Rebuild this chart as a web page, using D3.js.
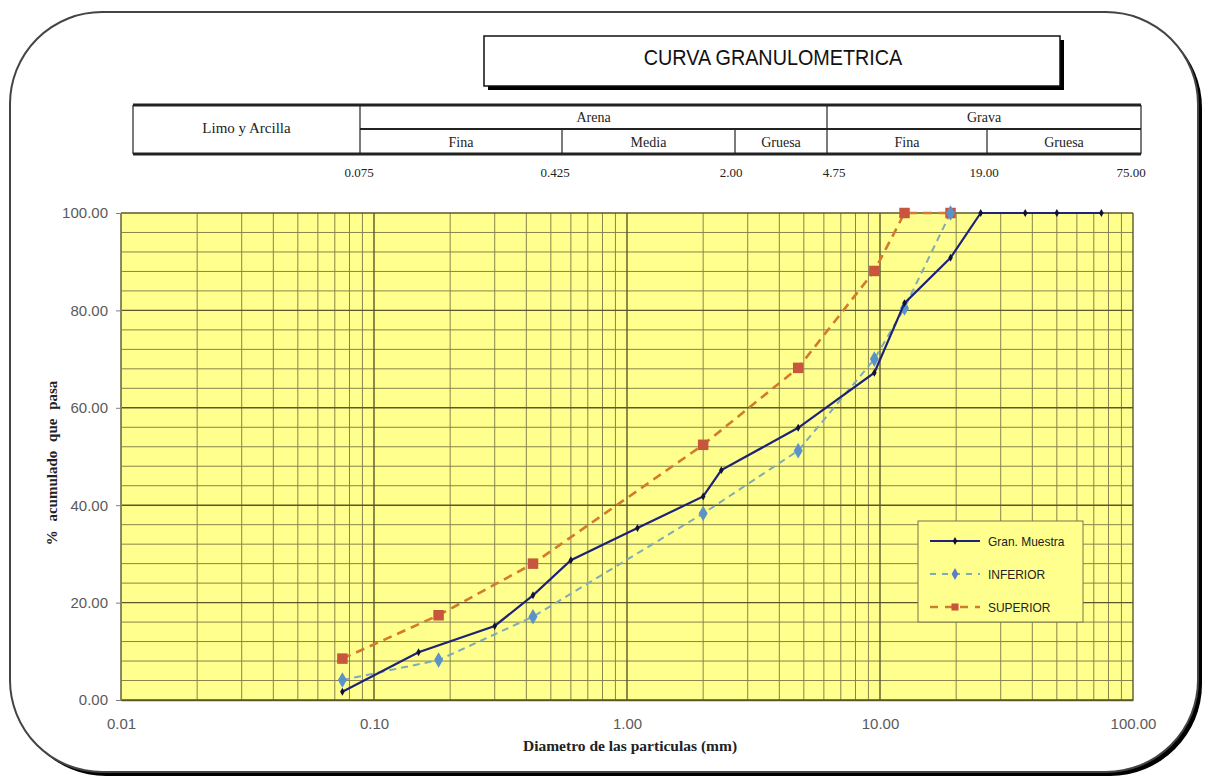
<!DOCTYPE html>
<html>
<head>
<meta charset="utf-8">
<script src="https://cdn.jsdelivr.net/npm/d3@7"></script>
<style>
  html, body { margin: 0; padding: 0; background: #ffffff; }
  svg { display: block; }
</style>
</head>
<body>
<svg id="chart" width="1208" height="778"></svg>
<script>
// Sieve sizes (mm) and percent passing for each curve
const sampleSize = [0.075, 0.15, 0.30, 0.425, 0.60, 1.10, 2.00, 2.36, 4.75, 9.5, 12.5, 19.0, 25.0, 37.5, 50.0, 75.0];
const samplePass = [1.7, 9.8, 15.2, 21.5, 28.7, 35.3, 41.8, 47.2, 55.9, 67.2, 81.5, 90.8, 100, 100, 100, 100];

const limitSize = [0.075, 0.18, 0.425, 2.00, 4.75, 9.5, 12.5, 19.0];
const lowerPass = [4.1, 8.2, 17.1, 38.3, 51.2, 70.0, 80.5, 100];
const upperPass = [8.5, 17.4, 28.0, 52.4, 68.2, 88.1, 100, 100];

const seriesNames = ["Gran. Muestra", "INFERIOR", "SUPERIOR"];

const xTicks = [0.01, 0.1, 1, 10, 100];
const yTicks = [0, 20, 40, 60, 80, 100];

// Soil classification header
const mainClasses = ["Limo y Arcilla", "Arena", "Grava"];
const subClasses = ["Fina", "Media", "Gruesa", "Fina", "Gruesa"];
const boundaryLabels = ["0.075", "0.425", "2.00", "4.75", "19.00", "75.00"];

const svg = d3.select("#chart");

// ---- outer rounded frame with drop shadow ----
const fx = 10, fy = 12, fw = 1188, fh = 760, fr = 92;
svg.append("rect").attr("x", fx + 4).attr("y", fy + 4).attr("width", fw).attr("height", fh)
  .attr("rx", fr).attr("ry", fr).attr("fill", "#000");
svg.append("rect").attr("x", fx).attr("y", fy).attr("width", fw).attr("height", fh)
  .attr("rx", fr).attr("ry", fr).attr("fill", "#fff").attr("stroke", "#444").attr("stroke-width", 2);

// ---- title box ----
svg.append("rect").attr("x", 488).attr("y", 40).attr("width", 576).attr("height", 50).attr("fill", "#000");
svg.append("rect").attr("x", 484).attr("y", 36).attr("width", 576).attr("height", 50)
  .attr("fill", "#fff").attr("stroke", "#111").attr("stroke-width", 1.5);
svg.append("text").attr("transform", "translate(773,65) scale(0.9,1)").attr("text-anchor", "middle")
  .attr("font-family", "'Liberation Sans', Arial, sans-serif")
  .attr("font-size", 22).attr("fill", "#111").text("CURVA GRANULOMETRICA");

// ---- classification table ----
const tb = { l: 133, r: 1141, t: 105, m: 129, b: 154 };
const colLimo = 360, colGrava = 827;
const subCols = [360, 562, 735, 827, 987, 1141];
const tGroup = svg.append("g").attr("stroke", "#222").attr("fill", "none");
tGroup.append("line").attr("x1", tb.l).attr("x2", tb.r).attr("y1", tb.t).attr("y2", tb.t).attr("stroke-width", 3);
tGroup.append("line").attr("x1", tb.l).attr("x2", tb.r).attr("y1", tb.b).attr("y2", tb.b).attr("stroke-width", 3);
tGroup.append("line").attr("x1", colLimo).attr("x2", tb.r).attr("y1", tb.m).attr("y2", tb.m).attr("stroke-width", 2);
[tb.l, colLimo, colGrava, tb.r].forEach(x => {
  tGroup.append("line").attr("x1", x).attr("x2", x).attr("y1", tb.t).attr("y2", tb.b).attr("stroke-width", 1.2);
});
[562, 735, 987].forEach(x => {
  tGroup.append("line").attr("x1", x).attr("x2", x).attr("y1", tb.m).attr("y2", tb.b).attr("stroke-width", 1.2);
});
const serif = "'Liberation Serif', 'Times New Roman', serif";
const tText = svg.append("g").attr("font-family", serif).attr("font-size", 14).attr("fill", "#222")
  .attr("text-anchor", "middle");
tText.append("text").attr("x", (tb.l + colLimo) / 2).attr("y", 133).attr("font-size", 15).text(mainClasses[0]);
tText.append("text").attr("x", (colLimo + colGrava) / 2).attr("y", 122).text(mainClasses[1]);
tText.append("text").attr("x", (colGrava + tb.r) / 2).attr("y", 122).text(mainClasses[2]);
subClasses.forEach((s, i) => {
  tText.append("text").attr("x", (subCols[i] + subCols[i + 1]) / 2).attr("y", 147).text(s);
});
const boundaryX = [359, 555, 731, 834, 984, 1131];
boundaryLabels.forEach((s, i) => {
  tText.append("text").attr("x", boundaryX[i]).attr("y", 177).attr("font-size", 13).text(s);
});

// ---- plot ----
const x = d3.scaleLog().domain([0.01, 100]).range([121, 1133]);
const y = d3.scaleLinear().domain([0, 100]).range([700, 213]);

svg.append("rect").attr("x", x(0.01)).attr("y", y(100))
  .attr("width", x(100) - x(0.01)).attr("height", y(0) - y(100)).attr("fill", "#ffff8e");

// minor and major grid lines
const grid = svg.append("g");
const minorX = [];
for (let e = -2; e < 2; e++) for (let k = 2; k <= 9; k++) minorX.push(k * Math.pow(10, e));
grid.selectAll(".vminor").data(minorX).join("line")
  .attr("x1", d => x(d)).attr("x2", d => x(d)).attr("y1", y(0)).attr("y2", y(100))
  .attr("stroke", "#86844c").attr("stroke-width", 1);
const minorY = d3.range(0, 101, 4).filter(v => v % 20 !== 0);
grid.selectAll(".hminor").data(minorY).join("line")
  .attr("x1", x(0.01)).attr("x2", x(100)).attr("y1", d => y(d)).attr("y2", d => y(d))
  .attr("stroke", "#86844c").attr("stroke-width", 1);
grid.selectAll(".vmajor").data(xTicks).join("line")
  .attr("x1", d => x(d)).attr("x2", d => x(d)).attr("y1", y(0)).attr("y2", y(100))
  .attr("stroke", "#5a5828").attr("stroke-width", 1.4);
grid.selectAll(".hmajor").data(yTicks).join("line")
  .attr("x1", x(0.01)).attr("x2", x(100)).attr("y1", d => y(d)).attr("y2", d => y(d))
  .attr("stroke", "#5a5828").attr("stroke-width", 1.4);

// axes
const sans = "'Liberation Sans', Arial, sans-serif";
const yAxis = svg.append("g").attr("transform", `translate(${x(0.01)},0)`)
  .call(d3.axisLeft(y).tickValues(yTicks).tickSize(5).tickPadding(8).tickFormat(d3.format(".2f")));
const xAxis = svg.append("g").attr("transform", `translate(0,${y(0)})`)
  .call(d3.axisBottom(x).tickValues(xTicks).tickSize(0).tickPadding(18).tickFormat(d3.format(".2f")));
[yAxis, xAxis].forEach(a => {
  a.select(".domain").attr("stroke", "#808080");
  a.selectAll(".tick line").attr("stroke", "#808080");
  a.selectAll("text").attr("font-family", sans).attr("font-size", 15).attr("fill", "#5a5a5a");
});
xAxis.select(".domain").attr("stroke", "#5a5828").attr("stroke-width", 1.5);

svg.append("text").attr("x", 630).attr("y", 751).attr("text-anchor", "middle")
  .attr("font-family", serif).attr("font-weight", "bold").attr("font-size", 15.5).attr("fill", "#222")
  .text("Diametro de las particulas (mm)");
svg.append("text").attr("transform", "translate(57,463) rotate(-90)").attr("text-anchor", "middle")
  .attr("font-family", serif).attr("font-weight", "bold").attr("font-size", 15).attr("fill", "#222")
  .attr("word-spacing", 5)
  .text("% acumulado que pasa");

// ---- series ----
const line = d3.line().x(d => x(d[0])).y(d => y(d[1]));
const sample = d3.zip(sampleSize, samplePass);
const lower = d3.zip(limitSize, lowerPass);
const upper = d3.zip(limitSize, upperPass);

const styles = {
  upper: { stroke: "#d47a2c", width: 2.6, dash: "9,6" },
  lower: { stroke: "#7fabb5", width: 2, dash: "7,5" },
  sample: { stroke: "#1f2378", width: 2.2, dash: null }
};

svg.append("path").datum(upper).attr("d", line).attr("fill", "none")
  .attr("stroke", styles.upper.stroke).attr("stroke-width", styles.upper.width).attr("stroke-dasharray", styles.upper.dash);
svg.append("path").datum(lower).attr("d", line).attr("fill", "none")
  .attr("stroke", styles.lower.stroke).attr("stroke-width", styles.lower.width).attr("stroke-dasharray", styles.lower.dash);

const sq = d3.symbol().type(d3.symbolSquare).size(110);
const dm = d3.symbol().type(d3.symbolDiamond).size(70);
const dmSmall = d3.symbol().type(d3.symbolDiamond).size(18);

svg.selectAll(".upt").data(upper).join("path")
  .attr("transform", d => `translate(${x(d[0])},${y(d[1])})`).attr("d", sq).attr("fill", "#c8553d");
svg.selectAll(".lpt").data(lower).join("path")
  .attr("transform", d => `translate(${x(d[0])},${y(d[1])})`).attr("d", dm).attr("fill", "#5b93c8");

svg.append("path").datum(sample).attr("d", line).attr("fill", "none")
  .attr("stroke", styles.sample.stroke).attr("stroke-width", styles.sample.width);
svg.selectAll(".spt").data(sample).join("path")
  .attr("transform", d => `translate(${x(d[0])},${y(d[1])})`).attr("d", dmSmall).attr("fill", "#111133");

// ---- legend ----
const lg = svg.append("g");
lg.append("rect").attr("x", 918).attr("y", 521).attr("width", 165).attr("height", 101)
  .attr("fill", "#ffff8e").attr("stroke", "#77764a").attr("stroke-width", 1);
const legendItems = [
  { name: seriesNames[0], s: styles.sample, sym: dmSmall, fill: "#111133" },
  { name: seriesNames[1], s: styles.lower, sym: d3.symbol().type(d3.symbolDiamond).size(40), fill: "#5b7fc0" },
  { name: seriesNames[2], s: styles.upper, sym: d3.symbol().type(d3.symbolSquare).size(50), fill: "#c8553d" }
];
legendItems.forEach((it, i) => {
  const ly = 541 + i * 33;
  lg.append("line").attr("x1", 930).attr("x2", 980).attr("y1", ly).attr("y2", ly)
    .attr("stroke", it.s.stroke).attr("stroke-width", it.s.width)
    .attr("stroke-dasharray", it.s.dash ? (i === 1 ? "6,6" : "8,7") : null);
  lg.append("path").attr("transform", `translate(955,${ly})`).attr("d", it.sym).attr("fill", it.fill);
  lg.append("text").attr("transform", `translate(988,${ly + 4.5}) scale(0.92,1)`)
    .attr("font-family", sans).attr("font-size", 13)
    .attr("fill", "#222").text(it.name);
});
</script>
</body>
</html>
